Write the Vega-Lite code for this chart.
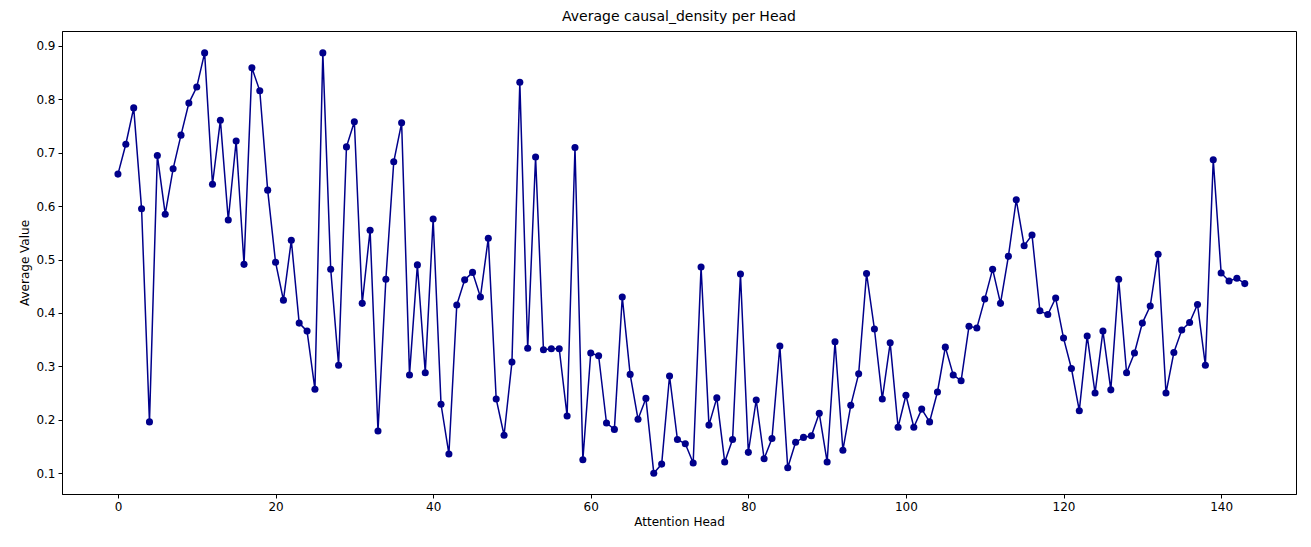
{
  "$schema": "https://vega.github.io/schema/vega-lite/v6.json",
  "width": 1234,
  "height": 463,
  "autosize": {"type": "none"},
  "padding": {"left": 62, "top": 31, "right": 15, "bottom": 53},
  "title": {"text": "Average causal_density per Head", "font": "DejaVu Sans", "fontSize": 14, "fontWeight": "normal", "offset": 7},
  "data": {"values": [
    {"h":0,"v":0.66},{"h":1,"v":0.716},{"h":2,"v":0.784},{"h":3,"v":0.595},{"h":4,"v":0.196},{"h":5,"v":0.695},{"h":6,"v":0.585},{"h":7,"v":0.67},{"h":8,"v":0.733},{"h":9,"v":0.793},
    {"h":10,"v":0.823},{"h":11,"v":0.887},{"h":12,"v":0.641},{"h":13,"v":0.761},{"h":14,"v":0.574},{"h":15,"v":0.722},{"h":16,"v":0.491},{"h":17,"v":0.859},{"h":18,"v":0.816},{"h":19,"v":0.63},
    {"h":20,"v":0.495},{"h":21,"v":0.424},{"h":22,"v":0.536},{"h":23,"v":0.381},{"h":24,"v":0.366},{"h":25,"v":0.257},{"h":26,"v":0.887},{"h":27,"v":0.482},{"h":28,"v":0.302},{"h":29,"v":0.711},
    {"h":30,"v":0.758},{"h":31,"v":0.418},{"h":32,"v":0.555},{"h":33,"v":0.179},{"h":34,"v":0.463},{"h":35,"v":0.683},{"h":36,"v":0.756},{"h":37,"v":0.284},{"h":38,"v":0.49},{"h":39,"v":0.288},
    {"h":40,"v":0.576},{"h":41,"v":0.229},{"h":42,"v":0.136},{"h":43,"v":0.415},{"h":44,"v":0.462},{"h":45,"v":0.476},{"h":46,"v":0.43},{"h":47,"v":0.54},{"h":48,"v":0.239},{"h":49,"v":0.171},
    {"h":50,"v":0.308},{"h":51,"v":0.832},{"h":52,"v":0.334},{"h":53,"v":0.692},{"h":54,"v":0.331},{"h":55,"v":0.333},{"h":56,"v":0.333},{"h":57,"v":0.207},{"h":58,"v":0.71},{"h":59,"v":0.125},
    {"h":60,"v":0.325},{"h":61,"v":0.32},{"h":62,"v":0.194},{"h":63,"v":0.182},{"h":64,"v":0.43},{"h":65,"v":0.285},{"h":66,"v":0.201},{"h":67,"v":0.24},{"h":68,"v":0.1},{"h":69,"v":0.117},
    {"h":70,"v":0.282},{"h":71,"v":0.163},{"h":72,"v":0.155},{"h":73,"v":0.119},{"h":74,"v":0.486},{"h":75,"v":0.19},{"h":76,"v":0.241},{"h":77,"v":0.121},{"h":78,"v":0.163},{"h":79,"v":0.473},
    {"h":80,"v":0.139},{"h":81,"v":0.237},{"h":82,"v":0.127},{"h":83,"v":0.165},{"h":84,"v":0.338},{"h":85,"v":0.11},{"h":86,"v":0.158},{"h":87,"v":0.167},{"h":88,"v":0.17},{"h":89,"v":0.212},
    {"h":90,"v":0.121},{"h":91,"v":0.346},{"h":92,"v":0.143},{"h":93,"v":0.227},{"h":94,"v":0.286},{"h":95,"v":0.474},{"h":96,"v":0.37},{"h":97,"v":0.239},{"h":98,"v":0.344},{"h":99,"v":0.186},
    {"h":100,"v":0.246},{"h":101,"v":0.186},{"h":102,"v":0.22},{"h":103,"v":0.196},{"h":104,"v":0.252},{"h":105,"v":0.336},{"h":106,"v":0.284},{"h":107,"v":0.273},{"h":108,"v":0.375},{"h":109,"v":0.372},
    {"h":110,"v":0.426},{"h":111,"v":0.482},{"h":112,"v":0.418},{"h":113,"v":0.506},{"h":114,"v":0.612},{"h":115,"v":0.526},{"h":116,"v":0.546},{"h":117,"v":0.404},{"h":118,"v":0.397},{"h":119,"v":0.428},
    {"h":120,"v":0.353},{"h":121,"v":0.296},{"h":122,"v":0.217},{"h":123,"v":0.357},{"h":124,"v":0.25},{"h":125,"v":0.366},{"h":126,"v":0.256},{"h":127,"v":0.463},{"h":128,"v":0.288},{"h":129,"v":0.325},
    {"h":130,"v":0.381},{"h":131,"v":0.413},{"h":132,"v":0.51},{"h":133,"v":0.25},{"h":134,"v":0.326},{"h":135,"v":0.368},{"h":136,"v":0.382},{"h":137,"v":0.416},{"h":138,"v":0.302},{"h":139,"v":0.687},
    {"h":140,"v":0.475},{"h":141,"v":0.46},{"h":142,"v":0.465},{"h":143,"v":0.455}
  ]},
  "mark": {"type": "line", "color": "#00008b", "strokeWidth": 1.5, "point": {"filled": true, "size": 50, "color": "#00008b", "opacity": 1}},
  "encoding": {
    "x": {"field": "h", "type": "quantitative", "title": "Attention Head",
      "scale": {"domain": [-7.1, 149.5], "nice": false, "zero": false},
      "axis": {"values": [0, 20, 40, 60, 80, 100, 120, 140], "grid": false}},
    "y": {"field": "v", "type": "quantitative", "title": "Average Value",
      "scale": {"domain": [0.061, 0.928], "nice": false, "zero": false},
      "axis": {"values": [0.1, 0.2, 0.3, 0.4, 0.5, 0.6, 0.7, 0.8, 0.9], "format": ".1f", "grid": false}}
  },
  "config": {
    "view": {"stroke": "black", "strokeWidth": 1},
    "axis": {"labelFont": "DejaVu Sans", "titleFont": "DejaVu Sans", "labelFontSize": 12, "titleFontSize": 12, "titleFontWeight": "normal", "labelColor": "#000", "titleColor": "#000", "tickColor": "#000", "domainColor": "#000", "tickSize": 4, "labelPadding": 3, "titlePadding": 4}
  }
}
